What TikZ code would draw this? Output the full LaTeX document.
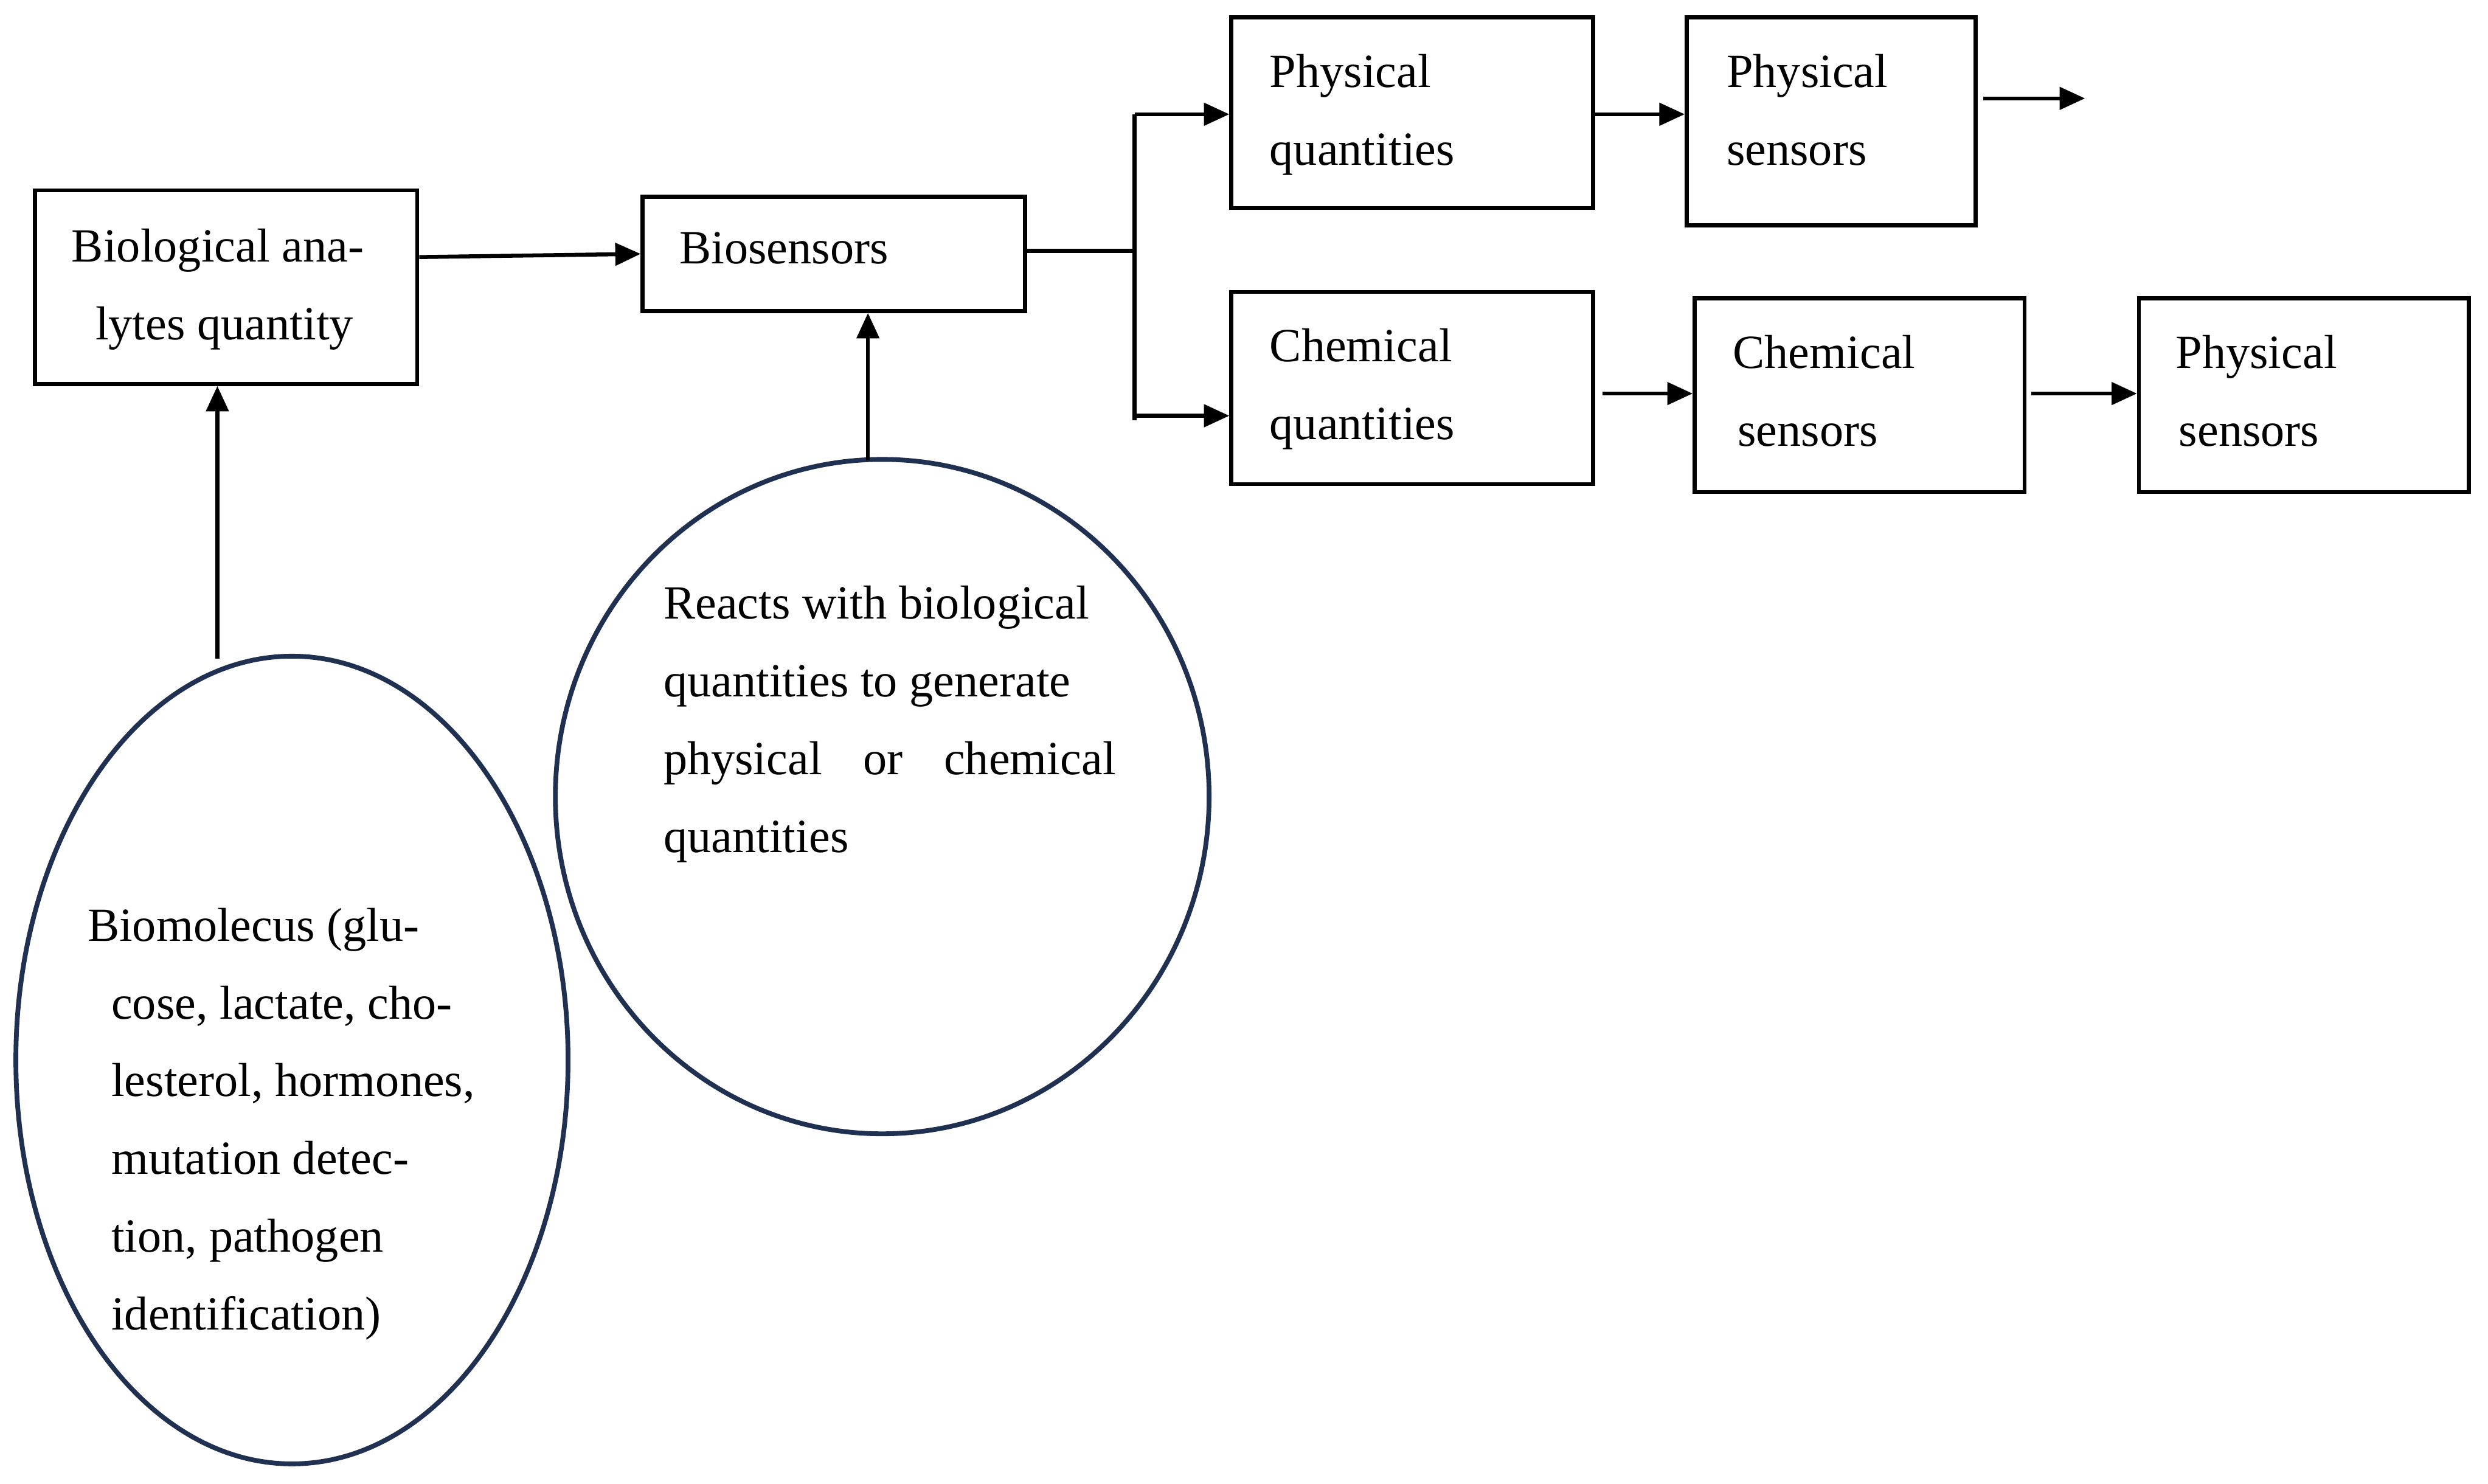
\documentclass[tikz,border=0pt]{standalone}
\usepackage{fontspec}
\setmainfont{Liberation Serif}
\usetikzlibrary{arrows.meta,shapes.geometric}
\definecolor{navy}{HTML}{1F3050}
\begin{document}
\begin{tikzpicture}[x=1pt,y=-1pt,
  box/.style={draw,line width=2.5pt,inner sep=0pt},
  ell/.style={draw=navy,line width=3pt,ellipse,inner sep=0pt},
  txt/.style={font=\fontsize{30}{49}\selectfont,align=left,anchor=north west,inner sep=0pt},
  arr/.style={line width=2.5pt,-{Triangle[length=16pt,width=14pt]}},
  ln/.style={line width=2.5pt}]
\useasboundingbox (0,0) rectangle (1568,935);
% boxes
\node[box,minimum width=241pt,minimum height=122pt] (b1) at (142.5,181) {};
\node[txt] at (45,144) {Biological ana-\\\hspace*{15pt}lytes quantity};
\node[box,minimum width=241pt,minimum height=72pt] (b2) at (525.5,160) {};
\node[txt] at (428,146) {Biosensors};
\node[box,minimum width=228pt,minimum height=120pt] (pq) at (890,71) {};
\node[txt] at (800,34) {Physical\\quantities};
\node[box,minimum width=182pt,minimum height=131pt] (ps) at (1154,76.5) {};
\node[txt] at (1088,34) {Physical\\sensors};
\node[box,minimum width=228pt,minimum height=121pt] (cq) at (890,244.5) {};
\node[txt] at (800,207) {Chemical\\quantities};
\node[box,minimum width=208pt,minimum height=122pt] (cs) at (1172,249) {};
\node[txt] at (1092,211) {Chemical\\\hspace*{3pt}sensors};
\node[box,minimum width=208pt,minimum height=122pt] (ps2) at (1452,249) {};
\node[txt] at (1371,211) {Physical\\\hspace*{2pt}sensors};
% ellipses
\node[ell,minimum width=348pt,minimum height=509pt] (e1) at (184,668) {};
\node[txt] at (55,572) {Biomolecus (glu-\\\hspace*{15pt}cose, lactate, cho-\\\hspace*{15pt}lesterol, hormones,\\\hspace*{15pt}mutation detec-\\\hspace*{15pt}tion, pathogen\\\hspace*{15pt}identification)};
\node[ell,minimum width=412pt,minimum height=425pt] (e2) at (556,502) {};
\node[txt] at (418,369) {Reacts with biological\\quantities to generate\\\hbox to 285pt{physical\hfill or\hfill chemical}\\quantities};
% connectors
\draw[arr] (b1.east |- 0,162) -- (b2.west |- 0,160);
\draw[arr] (137,415) -- (b1.south -| 137,0);
\draw[arr] (547,290) -- (b2.south -| 547,0);
\coordinate (j) at (715,158);
\coordinate (jt) at (715,72);
\coordinate (jb) at (715,265);
\draw[ln] (b2.east |- 0,158) -- (j);
\draw[ln] (jt) -- (jb);
\draw[arr] (jt) -- (pq.west |- 0,72);
\draw[arr] (715,262) -- (cq.west |- 0,262);
\draw[arr] (pq.east |- 0,72) -- (ps.west |- 0,72);
\coordinate (o1) at (1250,62);
\coordinate (o2) at (1314,62);
\draw[arr] (o1) -- (o2);
\coordinate (c1) at (1010,248);
\draw[arr] (c1) -- (cs.west |- 0,248);
\coordinate (c2) at (1280,248);
\draw[arr] (c2) -- (ps2.west |- 0,248);
\end{tikzpicture}
\end{document}
